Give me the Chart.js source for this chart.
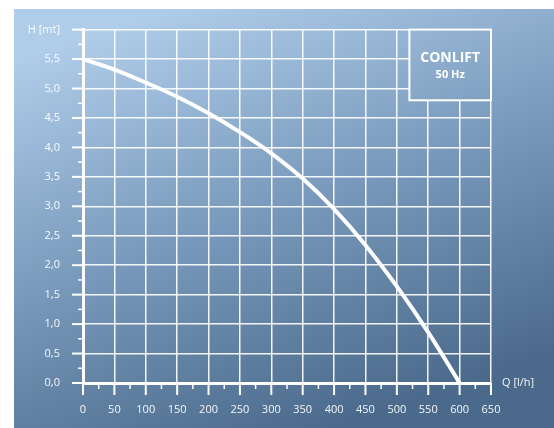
<!DOCTYPE html>
<html>
<head>
<meta charset="utf-8">
<script src="https://cdn.jsdelivr.net/npm/chart.js@4.4.1/dist/chart.umd.min.js"></script>
<style>
    html, body { margin: 0; padding: 0; background: #fff; }
    #wrap { width: 554px; height: 428px; }
</style>
</head>
<body>
<div id="wrap"><canvas id="pumpChart" width="554" height="428"></canvas></div>
<script>
// pump curve
const flowValues = [0, 50, 100, 150, 200, 250, 300, 350, 400, 450, 500, 550, 600];
const headValues = [5.5, 5.32, 5.1, 4.86, 4.58, 4.26, 3.9, 3.47, 2.95, 2.34, 1.64, 0.86, 0];

const flowTicks = [0, 50, 100, 150, 200, 250, 300, 350, 400, 450, 500, 550, 600, 650];
const headTicks = [0, 0.5, 1, 1.5, 2, 2.5, 3, 3.5, 4, 4.5, 5, 5.5, 6];
const headAxisTitle = 'H [mt]';
const flowAxisTitle = 'Q [l/h]';
const legendTitle = 'CONLIFT';
const legendSubtitle = '50 Hz';

const FONT = '"Open Sans", "Noto Sans", sans-serif';
const LABEL_COLOR = 'rgba(255,255,255,0.93)';
let bgGradient = null;

function getGradient(ctx) {
    if (!bgGradient) {
        bgGradient = ctx.createLinearGradient(190, 0, 340, 428);
        bgGradient.addColorStop(0, '#afcce9');
        bgGradient.addColorStop(0.5, '#7899bb');
        bgGradient.addColorStop(1, '#4b6a8b');
    }
    return bgGradient;
}

// panel background, axis tick marks, axis title and the legend box
const decorPlugin = {
    id: 'decor',
    beforeDraw(chart) {
        const ctx = chart.ctx;
        ctx.save();
        ctx.fillStyle = getGradient(ctx);
        ctx.fillRect(14, 9, 540, 419);
        ctx.restore();
    },
    afterDraw(chart) {
        const ctx = chart.ctx;
        const x = chart.scales.x;
        const y = chart.scales.y;
        const area = chart.chartArea;
        ctx.save();
        ctx.strokeStyle = '#ffffff';

        // x ticks, major every 50, minor every 25
        for (let q = 0; q <= 650; q += 25) {
            const px = x.getPixelForValue(q);
            const major = q % 50 === 0;
            ctx.lineWidth = major ? 2 : 1.5;
            ctx.beginPath();
            ctx.moveTo(px, area.bottom);
            ctx.lineTo(px, area.bottom + (major ? 12 : 6));
            ctx.stroke();
        }
        // y ticks, major every 0.5, minor every 0.25
        for (let i = 0; i <= 24; i++) {
            const h = i * 0.25;
            const py = y.getPixelForValue(h);
            const major = i % 2 === 0;
            ctx.lineWidth = major ? 2 : 1.5;
            ctx.beginPath();
            ctx.moveTo(area.left, py);
            ctx.lineTo(area.left - (major ? 11 : 5), py);
            ctx.stroke();
        }

        // x axis title at the end of the axis
        ctx.fillStyle = LABEL_COLOR;
        ctx.font = '11px ' + FONT;
        ctx.textAlign = 'left';
        ctx.textBaseline = 'middle';
        ctx.fillText(flowAxisTitle, area.right + 11, y.getPixelForValue(0));

        // legend box in the top right corner
        const bx = x.getPixelForValue(520);
        const bRight = x.getPixelForValue(650);
        const bTop = y.getPixelForValue(6);
        const bBottom = y.getPixelForValue(4.8);
        ctx.fillStyle = getGradient(ctx);
        ctx.fillRect(bx, bTop, bRight - bx, bBottom - bTop);
        ctx.lineWidth = 2;
        ctx.strokeRect(bx, bTop, bRight - bx, bBottom - bTop);
        ctx.fillStyle = '#ffffff';
        ctx.textAlign = 'center';
        ctx.font = 'bold 14px ' + FONT;
        ctx.fillText(legendTitle, (bx + bRight) / 2, bTop + 28);
        ctx.font = 'bold 11px ' + FONT;
        ctx.fillText(legendSubtitle, (bx + bRight) / 2, bTop + 45);
        ctx.restore();
    }
};

const chart = new Chart(document.getElementById('pumpChart'), {
    type: 'line',
    data: {
        labels: flowValues,
        datasets: [{
            data: flowValues.map((q, i) => ({x: q, y: headValues[i]})),
            borderColor: '#ffffff',
            borderWidth: 4,
            pointRadius: 0,
            tension: 0.4,
            fill: false
        }]
    },
    options: {
        responsive: false,
        animation: false,
        devicePixelRatio: 1,
        layout: {
            padding: {left: 0, top: 29, right: 63, bottom: 0}
        },
        plugins: {
            legend: {display: false},
            tooltip: {enabled: false}
        },
        scales: {
            x: {
                type: 'linear',
                min: 0,
                max: 650,
                afterFit: (scale) => { scale.height = 45; },
                afterBuildTicks: (scale) => { scale.ticks = flowTicks.map(v => ({value: v})); },
                grid: {
                    color: 'rgba(255,255,255,0.92)',
                    lineWidth: 1.5,
                    drawTicks: false
                },
                border: {color: '#ffffff', width: 3},
                ticks: {
                    color: LABEL_COLOR,
                    font: {family: FONT, size: 11},
                    padding: 20,
                    maxRotation: 0,
                    autoSkip: false
                }
            },
            y: {
                min: 0,
                max: 6,
                afterFit: (scale) => { scale.width = 83; },
                afterBuildTicks: (scale) => { scale.ticks = headTicks.map(v => ({value: v})); },
                grid: {
                    color: 'rgba(255,255,255,0.92)',
                    lineWidth: 1.5,
                    drawTicks: false
                },
                border: {color: '#ffffff', width: 3},
                ticks: {
                    color: LABEL_COLOR,
                    font: {family: FONT, size: 11},
                    padding: 23,
                    autoSkip: false,
                    callback: (v) => v === 6 ? headAxisTitle : v.toFixed(1).replace('.', ',')
                }
            }
        }
    },
    plugins: [decorPlugin]
});
</script>
</body>
</html>
